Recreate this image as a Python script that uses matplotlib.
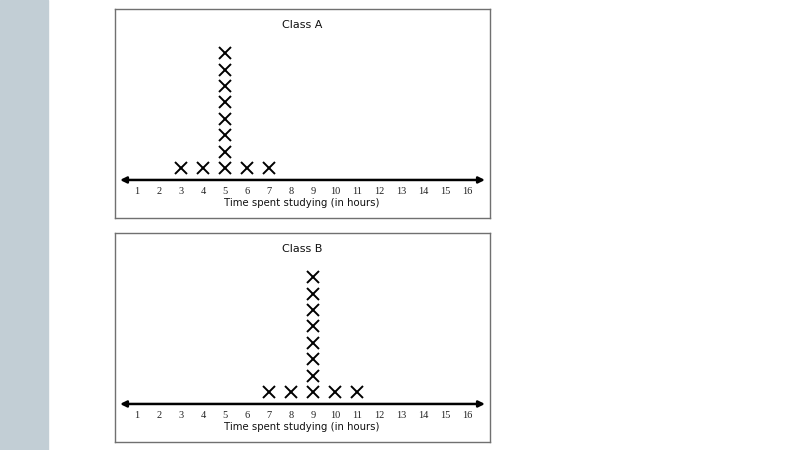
import matplotlib.pyplot as plt
from matplotlib.patches import Rectangle

# hours studied, one entry per student
class_a = [3, 4, 5, 5, 5, 5, 5, 5, 5, 5, 6, 7]
class_b = [7, 8, 9, 9, 9, 9, 9, 9, 9, 9, 10, 11]
ticks = list(range(1, 17))
titles = ["Class A", "Class B"]
xlabel = "Time spent studying (in hours)"

fig = plt.figure(figsize=(8, 4.5), dpi=100)
fig.patches.append(Rectangle((0, 0), 48 / 800, 1, transform=fig.transFigure,
                             color="#c2ced5", zorder=0))


def dot_plot(ax, data, title):
    counts = {}
    xs, ys = [], []
    for v in data:
        counts[v] = counts.get(v, 0) + 1
        xs.append(v)
        ys.append(counts[v])
    ax.plot(xs, ys, ls="none", marker="x", ms=8, mew=1.4, color="black")
    ax.annotate("", xy=(16.82, 0.27), xytext=(0.23, 0.27),
                arrowprops=dict(arrowstyle="<|-|>", lw=1.8, color="black",
                                mutation_scale=9, shrinkA=0, shrinkB=0))
    for t in ticks:
        ax.text(t, -0.42, str(t), ha="center", va="center", fontsize=7.5,
                family="Liberation Serif", color="#222222")
    ax.text(8.5, -1.15, xlabel, ha="center", va="center", fontsize=7.3,
            color="#111111")
    ax.text(8.5, 9.72, title, ha="center", va="center", fontsize=8,
            color="#111111")
    ax.set_xlim(0, 17.05)
    ax.set_ylim(-2.05, 10.68)
    ax.set_xticks([])
    ax.set_yticks([])
    for s in ax.spines.values():
        s.set_color("#707070")
        s.set_linewidth(1.0)


ax1 = fig.add_axes([115 / 800, 1 - 218 / 450, 375 / 800, 208.7 / 450])
dot_plot(ax1, class_a, titles[0])
ax2 = fig.add_axes([115 / 800, 1 - 442 / 450, 375 / 800, 208.7 / 450])
dot_plot(ax2, class_b, titles[1])

fig.savefig("out.png", dpi=100)
